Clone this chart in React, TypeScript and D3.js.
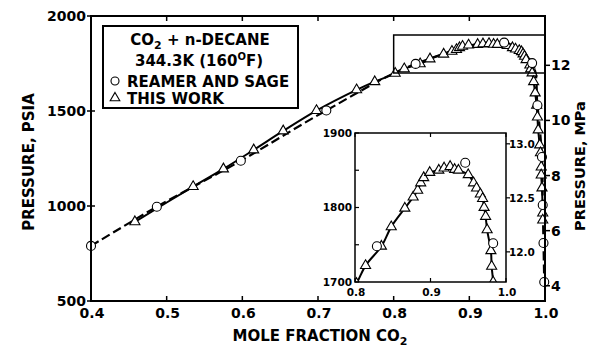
import React from 'react';
import * as d3 from 'd3';

// Reamer and Sage (circles): mole fraction CO2, pressure psia (path order)
const reamerX = [0.4, 0.487, 0.598, 0.711, 0.829, 0.946, 0.983, 0.99, 0.996, 0.997, 0.998, 0.999];
const reamerP = [790, 996, 1238, 1503, 1748, 1860, 1752, 1530, 1258, 1005, 805, 600];

// This work (triangles), path order (bubble branch then dew branch)
const thisWorkX = [0.458, 0.535, 0.575, 0.615, 0.654, 0.698, 0.751, 0.775, 0.802, 0.814, 0.835, 0.848, 0.866, 0.877, 0.883, 0.887, 0.891, 0.899, 0.911, 0.918, 0.926, 0.932, 0.937, 0.95, 0.957, 0.961, 0.966, 0.969, 0.971, 0.973, 0.975, 0.98, 0.981, 0.983, 0.985, 0.987, 0.989, 0.99, 0.991, 0.993, 0.994, 0.995, 0.995, 0.996, 0.997, 0.997];
const thisWorkP = [917, 1102, 1195, 1295, 1395, 1502, 1611, 1654, 1698, 1722, 1748, 1774, 1799, 1814, 1823, 1833, 1840, 1847, 1850, 1853, 1855, 1851, 1850, 1844, 1833, 1826, 1818, 1812, 1800, 1788, 1770, 1742, 1721, 1700, 1654, 1595, 1530, 1468, 1400, 1321, 1280, 1205, 1163, 1095, 963, 926];

const xTicks = [0.4, 0.5, 0.6, 0.7, 0.8, 0.9, 1.0];
const yTicks = [500, 1000, 1500, 2000];
const mpaTicks = [4, 6, 8, 10, 12];
const insetXTicks = [0.8, 0.9, 1.0];
const insetYTicks = [1700, 1800, 1900];
const insetYMinor = [1750, 1850];
const insetMpaTicks = [12.0, 12.5, 13.0];
const PSIA_PER_MPA = 145.038;

const FONT = '"DejaVu Sans", sans-serif';

export default function App() {
  const x = d3.scaleLinear().domain([0.4, 1.0]).range([91, 545]);
  const y = d3.scaleLinear().domain([500, 2000]).range([301, 16]);
  const yM = d3.scaleLinear().domain([500 / PSIA_PER_MPA, 2000 / PSIA_PER_MPA]).range([301, 16]);

  const xi = d3.scaleLinear().domain([0.8, 1.0]).range([355, 506]);
  const yi = d3.scaleLinear().domain([1700, 1900]).range([282, 133]);
  const yiM = d3.scaleLinear().domain([1700 / PSIA_PER_MPA, 1900 / PSIA_PER_MPA]).range([282, 133]);

  const circles = reamerX.map((v, i) => ({ x: v, p: reamerP[i] }));
  const tris = thisWorkX.map((v, i) => ({ x: v, p: thisWorkP[i] }));

  const lineMain = d3.line<{ x: number; p: number }>()
    .x(d => x(d.x)).y(d => y(d.p)).curve(d3.curveCatmullRom.alpha(0.5));
  const lineInset = d3.line<{ x: number; p: number }>()
    .x(d => xi(d.x)).y(d => yi(d.p)).curve(d3.curveCatmullRom.alpha(0.5));

  const tri = d3.symbol().type(d3.symbolTriangle).size(44)();
  const triLeg = d3.symbol().type(d3.symbolTriangle).size(40)();

  const fmt1 = d3.format('.1f');

  return (
    <svg width={589} height={348} style={{ position: 'absolute', left: 0, top: 0, background: '#fff' }}
      fontFamily={FONT} fontWeight="bold">
      <defs>
        <clipPath id="insetClip">
          <rect x={355} y={133} width={151} height={149} />
        </clipPath>
        <clipPath id="mainClip">
          <rect x={85} y={10} width={466} height={297} />
        </clipPath>
      </defs>
      <rect width={589} height={348} fill="#fff" />

      {/* main curves */}
      <g clipPath="url(#mainClip)">
        <path d={lineMain(circles) || ''} fill="none" stroke="#000" strokeWidth={2.2} strokeDasharray="9,4" />
        <path d={lineMain(tris) || ''} fill="none" stroke="#000" strokeWidth={2} />
        {tris.map((d, i) => (
          <path key={'t' + i} d={tri} transform={`translate(${x(d.x)},${y(d.p)})`} fill="#fff" stroke="#000" strokeWidth={1.1} />
        ))}
        {circles.map((d, i) => (
          <circle key={'c' + i} cx={x(d.x)} cy={y(d.p)} r={4.5} fill="#fff" stroke="#000" strokeWidth={1.1} />
        ))}
      </g>

      {/* zoom box in main plot */}
      <rect x={x(0.8)} y={y(1900)} width={x(1.0) - x(0.8)} height={y(1700) - y(1900)} fill="none" stroke="#000" strokeWidth={1.5} />

      {/* main frame */}
      <rect x={91} y={16} width={454} height={285} fill="none" stroke="#000" strokeWidth={2} />

      {/* x ticks bottom & top */}
      {xTicks.map(t => (
        <g key={'xt' + t}>
          <line x1={x(t)} x2={x(t)} y1={301} y2={296} stroke="#000" strokeWidth={1.5} />
          <line x1={x(t)} x2={x(t)} y1={16} y2={21} stroke="#000" strokeWidth={1.5} />
          <text x={x(t) + 1} y={318} textAnchor="middle" fontSize={14}>{fmt1(t)}</text>
        </g>
      ))}
      {/* y ticks left */}
      {yTicks.map(t => (
        <g key={'yt' + t}>
          <line x1={87} x2={95} y1={y(t)} y2={y(t)} stroke="#000" strokeWidth={1.5} />
          <text x={86} y={y(t)} dy="0.36em" textAnchor="end" fontSize={14}>{t}</text>
        </g>
      ))}
      {/* MPa ticks right */}
      {mpaTicks.map(t => (
        <g key={'mt' + t}>
          <line x1={545} x2={550} y1={yM(t)} y2={yM(t)} stroke="#000" strokeWidth={1.5} />
          <text x={551} y={yM(t)} dy="0.36em" textAnchor="start" fontSize={14}>{t}</text>
        </g>
      ))}

      {/* axis titles */}
      <text x={320} y={341} textAnchor="middle" fontSize={15}>
        MOLE FRACTION CO<tspan dy={4} fontSize={11}>2</tspan>
      </text>
      <text transform="translate(34,162) rotate(-90)" textAnchor="middle" fontSize={15}>PRESSURE, PSIA</text>
      <text transform="translate(585,166) rotate(-90)" textAnchor="middle" fontSize={14.5}>PRESSURE, MPa</text>

      {/* legend */}
      <rect x={103} y={26} width={195} height={82} fill="#fff" stroke="#000" strokeWidth={2} />
      <text x={200} y={45} textAnchor="middle" fontSize={15}>
        CO<tspan dy={4} fontSize={11}>2</tspan><tspan dy={-4}> + n-DECANE</tspan>
      </text>
      <text x={199} y={66} textAnchor="middle" fontSize={15}>
        344.3K (160<tspan dy={-6} fontSize={10}>O</tspan><tspan dy={6}>F)</tspan>
      </text>
      <circle cx={115} cy={81} r={4} fill="#fff" stroke="#000" strokeWidth={1.1} />
      <text x={127} y={86.5} fontSize={15}>REAMER AND SAGE</text>
      <path d={triLeg} transform="translate(115,98)" fill="#fff" stroke="#000" strokeWidth={1.1} />
      <text x={127} y={103.5} fontSize={15}>THIS WORK</text>

      {/* inset */}
      <rect x={355} y={133} width={151} height={149} fill="#fff" />
      <g clipPath="url(#insetClip)">
        <path d={lineInset(tris) || ''} fill="none" stroke="#000" strokeWidth={2} />
        {tris.map((d, i) => (
          <path key={'it' + i} d={tri} transform={`translate(${xi(d.x)},${yi(d.p)})`} fill="#fff" stroke="#000" strokeWidth={1.1} />
        ))}
        {circles.map((d, i) => (
          <circle key={'ic' + i} cx={xi(d.x)} cy={yi(d.p)} r={4.5} fill="#fff" stroke="#000" strokeWidth={1.1} />
        ))}
      </g>
      <rect x={355} y={133} width={151} height={149} fill="none" stroke="#000" strokeWidth={1.5} />
      {insetXTicks.map(t => (
        <g key={'ixt' + t}>
          <line x1={xi(t)} x2={xi(t)} y1={282} y2={278} stroke="#000" strokeWidth={1.2} />
          <line x1={xi(t)} x2={xi(t)} y1={133} y2={137} stroke="#000" strokeWidth={1.2} />
          <text x={xi(t) + 1} y={296} textAnchor="middle" fontSize={10.5}>{fmt1(t)}</text>
        </g>
      ))}
      {insetYTicks.map(t => (
        <g key={'iyt' + t}>
          <line x1={355} x2={359} y1={yi(t)} y2={yi(t)} stroke="#000" strokeWidth={1.2} />
          <text x={352} y={yi(t)} dy="0.36em" textAnchor="end" fontSize={10.5}>{t}</text>
        </g>
      ))}
      {insetYMinor.map(t => (
        <line key={'iym' + t} x1={355} x2={359} y1={yi(t)} y2={yi(t)} stroke="#000" strokeWidth={1.2} />
      ))}
      {insetMpaTicks.map(t => (
        <g key={'imt' + t}>
          <line x1={506} x2={510} y1={yiM(t)} y2={yiM(t)} stroke="#000" strokeWidth={1.2} />
          <text x={509} y={yiM(t)} dy="0.36em" textAnchor="start" fontSize={10.5}>{fmt1(t)}</text>
        </g>
      ))}
    </svg>
  );
}
